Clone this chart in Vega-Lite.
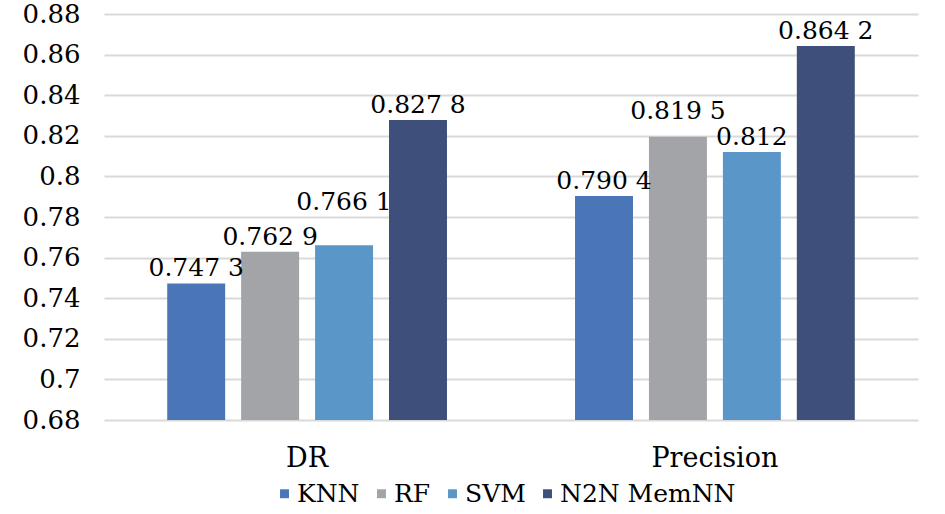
{
  "$schema": "https://vega.github.io/schema/vega-lite/v6.json",
  "width": 814,
  "height": 406,
  "autosize": {"type": "none"},
  "padding": {"left": 104, "top": 14, "right": 27, "bottom": 94},
  "config": {
    "view": {"stroke": null},
    "font": "DejaVu Serif",
    "axis": {"labelFont": "DejaVu Serif"},
    "legend": {"labelFont": "DejaVu Serif"},
    "text": {"font": "DejaVu Serif"}
  },
  "data": {
    "values": [
      {"metric": "DR", "model": "KNN", "value": 0.7473, "label": "0.747 3"},
      {"metric": "DR", "model": "RF", "value": 0.7629, "label": "0.762 9"},
      {"metric": "DR", "model": "SVM", "value": 0.7661, "label": "0.766 1"},
      {"metric": "DR", "model": "N2N MemNN", "value": 0.8278, "label": "0.827 8"},
      {"metric": "Precision", "model": "KNN", "value": 0.7904, "label": "0.790 4"},
      {"metric": "Precision", "model": "RF", "value": 0.8195, "label": "0.819 5"},
      {"metric": "Precision", "model": "SVM", "value": 0.812, "label": "0.812"},
      {"metric": "Precision", "model": "N2N MemNN", "value": 0.8642, "label": "0.864 2"}
    ]
  },
  "encoding": {
    "x": {
      "field": "metric", "type": "nominal", "sort": ["DR", "Precision"],
      "scale": {"paddingInner": 0.314, "paddingOuter": 0.155},
      "axis": {"title": null, "labelAngle": 0, "labelFontSize": 27, "labelColor": "#000000", "labelPadding": 25, "ticks": false, "domain": false}
    },
    "xOffset": {
      "field": "model", "type": "nominal", "sort": ["KNN", "RF", "SVM", "N2N MemNN"],
      "scale": {"paddingInner": 0.216, "paddingOuter": 0}
    },
    "y": {
      "field": "value", "type": "quantitative",
      "scale": {"domain": [0.68, 0.88], "nice": false, "zero": false},
      "axis": {
        "title": null,
        "values": [0.68, 0.7, 0.72, 0.74, 0.76, 0.78, 0.8, 0.82, 0.84, 0.86, 0.88],
        "format": ".2~f",
        "labelFontSize": 26, "labelColor": "#000000", "labelPadding": 24,
        "ticks": false, "domain": false,
        "gridColor": "#D9D9D9", "gridWidth": 2
      }
    }
  },
  "layer": [
    {
      "mark": {"type": "bar"},
      "encoding": {
        "y2": {"datum": 0.68},
        "color": {
          "field": "model", "type": "nominal",
          "scale": {"domain": ["KNN", "RF", "SVM", "N2N MemNN"], "range": ["#4A76B8", "#A3A4A8", "#5A96C8", "#3D4F7A"]},
          "legend": {
            "title": null, "orient": "none", "direction": "horizontal",
            "legendX": 168, "legendY": 467, "padding": 0,
            "symbolType": "square", "symbolSize": 80, "symbolStrokeWidth": 0,
            "labelFontSize": 25, "labelColor": "#000000",
            "labelOffset": 0, "labelLimit": 400, "columnPadding": 9
          }
        }
      }
    },
    {
      "transform": [{"filter": "!(datum.metric == 'DR' && datum.model == 'SVM') && !(datum.metric == 'Precision' && datum.model == 'RF')"}],
      "mark": {"type": "text", "dy": -7, "fontSize": 25, "color": "#000000", "baseline": "alphabetic"},
      "encoding": {"text": {"field": "label"}}
    },
    {
      "transform": [{"filter": "datum.metric == 'DR' && datum.model == 'SVM'"}],
      "mark": {"type": "text", "dy": -35, "fontSize": 25, "color": "#000000", "baseline": "alphabetic"},
      "encoding": {"text": {"field": "label"}}
    },
    {
      "transform": [{"filter": "datum.metric == 'Precision' && datum.model == 'RF'"}],
      "mark": {"type": "text", "dy": -18, "fontSize": 25, "color": "#000000", "baseline": "alphabetic"},
      "encoding": {"text": {"field": "label"}}
    }
  ]
}
